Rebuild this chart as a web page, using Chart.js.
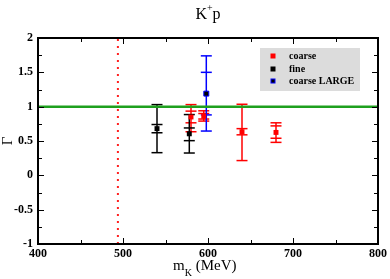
<!DOCTYPE html>
<html><head><meta charset="utf-8">
<script src="https://cdn.jsdelivr.net/npm/chart.js@4/dist/chart.umd.min.js"></script>
<style>html,body{margin:0;padding:0;background:#fff}#wrap{width:390px;height:279px}</style>
</head><body><div id="wrap"><canvas id="c" width="390" height="279"></canvas></div>
<script>
// ---- data ----
const coarseX      = [580, 595, 640, 680];
const coarseY      = [0.85, 0.86, 0.635, 0.625];
const coarseStatLo = [0.765, 0.82, 0.59, 0.54];
const coarseStatHi = [0.935, 0.90, 0.68, 0.72];
const coarseTotLo  = [0.635, 0.79, 0.215, 0.48];
const coarseTotHi  = [1.03, 0.94, 1.035, 0.765];

const fineX      = [540, 578];
const fineY      = [0.68, 0.605];
const fineStatLo = [0.62, 0.505];
const fineStatHi = [0.74, 0.69];
const fineTotLo  = [0.33, 0.325];
const fineTotHi  = [1.03, 0.885];

const largeX      = [598];
const largeY      = [1.19];
const largeStatLo = [0.88];
const largeStatHi = [1.50];
const largeTotLo  = [0.645];
const largeTotHi  = [1.74];

const refLineY = 1;        // horizontal reference
const kaonMass = 494;      // vertical dotted line
const xTicks = [400, 500, 600, 700, 800];
const yTicks = [2, 1.5, 1, 0.5, 0, -0.5, -1];
const legendLabels = ['coarse', 'fine', 'coarse LARGE'];

const pts = (xs, ys) => xs.map((x, i) => ({x, y: ys[i]}));

const series = [
  {x: coarseX, y: coarseY, sl: coarseStatLo, sh: coarseStatHi, tl: coarseTotLo, th: coarseTotHi, color: '#ff0000', fill: '#ff0000'},
  {x: fineX, y: fineY, sl: fineStatLo, sh: fineStatHi, tl: fineTotLo, th: fineTotHi, color: '#000000', fill: '#000000'},
  {x: largeX, y: largeY, sl: largeStatLo, sh: largeStatHi, tl: largeTotLo, th: largeTotHi, color: '#0000ff', fill: '#000000'}
];

const errPlugin = {
  id: 'err',
  beforeDatasetsDraw(chart) {
    const ctx = chart.ctx, xs = chart.scales.x, ys = chart.scales.y;
    ctx.save();
    ctx.lineWidth = 1.5;
    series.forEach(s => {
      ctx.strokeStyle = s.color;
      s.x.forEach((xv, i) => {
        const px = xs.getPixelForValue(xv);
        const cap = (v) => { const py = ys.getPixelForValue(v); ctx.beginPath(); ctx.moveTo(px - 5.5, py); ctx.lineTo(px + 5.5, py); ctx.stroke(); };
        ctx.beginPath();
        ctx.moveTo(px, ys.getPixelForValue(s.tl[i]));
        ctx.lineTo(px, ys.getPixelForValue(s.th[i]));
        ctx.stroke();
        [s.tl[i], s.th[i], s.sl[i], s.sh[i]].forEach(cap);
      });
    });
    ctx.restore();
  },
  afterDraw(chart) {
    const ctx = chart.ctx, xs = chart.scales.x, ys = chart.scales.y, a = chart.chartArea;
    ctx.save();
    // ticks inside frame
    ctx.strokeStyle = '#000'; ctx.lineWidth = 1;
    for (let v = 400; v <= 800; v += 50) {
      const px = Math.round(xs.getPixelForValue(v)) + 0.5;
      const L = (v % 100 === 0) ? 6 : 4;
      ctx.beginPath(); ctx.moveTo(px, a.bottom); ctx.lineTo(px, a.bottom - L);
      ctx.moveTo(px, a.top); ctx.lineTo(px, a.top + L); ctx.stroke();
    }
    for (let k = -4; k <= 8; k++) {
      const v = k * 0.25;
      const py = Math.round(ys.getPixelForValue(v)) + 0.5;
      const L = (k % 2 === 0) ? 6 : 4;
      ctx.beginPath(); ctx.moveTo(a.left, py); ctx.lineTo(a.left + L, py);
      ctx.moveTo(a.right, py); ctx.lineTo(a.right - L, py); ctx.stroke();
    }
    // frame
    ctx.lineWidth = 2;
    ctx.strokeRect(a.left, a.top, a.right - a.left, a.bottom - a.top);

    // legend
    ctx.fillStyle = '#dcdcdc';
    ctx.fillRect(260, 48, 100, 43);
    const rows = [56, 69, 81];
    ctx.font = 'bold 10px "Liberation Serif", serif';
    ctx.textBaseline = 'middle'; ctx.textAlign = 'left';
    series.forEach((s, i) => {
      ctx.fillStyle = s.color;
      ctx.fillRect(270.5, rows[i] - 2.5, 5, 5);
      if (s.fill !== s.color) { ctx.fillStyle = s.fill; ctx.fillRect(271.5, rows[i] - 1.5, 3, 3); }
      ctx.fillStyle = '#000';
      ctx.fillText(legendLabels[i], 289, rows[i] + 0.5);
    });

    // title K+p
    ctx.fillStyle = '#000';
    ctx.textBaseline = 'alphabetic';
    ctx.font = '16px "Liberation Serif", serif';
    const kw = ctx.measureText('K').width, pw = ctx.measureText('p').width;
    ctx.font = '10px "Liberation Serif", serif';
    const plw = ctx.measureText('+').width;
    let tx = (a.left + a.right) / 2 - (kw + plw + pw) / 2;
    ctx.font = '16px "Liberation Serif", serif';
    ctx.fillText('K', tx, 18.5);
    ctx.font = '10px "Liberation Serif", serif';
    ctx.fillText('+', tx + kw, 11);
    ctx.font = '16px "Liberation Serif", serif';
    ctx.fillText('p', tx + kw + plw, 18.5);

    // x title
    ctx.font = '15px "Liberation Serif", serif';
    const mw = ctx.measureText('m').width;
    ctx.fillText('m', 173, 270);
    ctx.font = '10px "Liberation Serif", serif';
    const ksw = ctx.measureText('K').width;
    ctx.fillText('K', 173 + mw, 276);
    ctx.font = '15px "Liberation Serif", serif';
    ctx.fillText(' (MeV)', 173 + mw + ksw, 270);

    // y title (rotated)
    ctx.save();
    ctx.translate(12, (a.top + a.bottom) / 2);
    ctx.rotate(-Math.PI / 2);
    ctx.textAlign = 'center';
    ctx.font = '15px "Liberation Serif", serif';
    ctx.fillText('Γ', 0, 0);
    ctx.restore();
    ctx.restore();
  }
};

new Chart(document.getElementById('c'), {
  type: 'scatter',
  data: {
    datasets: [
      {type: 'line', data: [{x: 400, y: refLineY}, {x: 800, y: refLineY}], borderColor: '#1ea01e', borderWidth: 2.5, pointRadius: 0},
      {type: 'line', data: [{x: kaonMass, y: -1}, {x: kaonMass, y: 2}], borderColor: '#ff2020', borderWidth: 2, borderDash: [2, 5], pointRadius: 0},
      {data: pts(coarseX, coarseY), pointStyle: 'rect', pointRadius: 3.5, backgroundColor: '#ff0000', borderColor: '#ff0000', borderWidth: 0},
      {data: pts(fineX, fineY), pointStyle: 'rect', pointRadius: 3.5, backgroundColor: '#000', borderColor: '#000', borderWidth: 0},
      {data: pts(largeX, largeY), pointStyle: 'rect', pointRadius: 3.5, backgroundColor: '#000', borderColor: '#0000ff', borderWidth: 1}
    ]
  },
  options: {
    responsive: false, animation: false,
    layout: {padding: {left: 0, top: 38, right: 10, bottom: 0}},
    plugins: {legend: {display: false}, tooltip: {enabled: false}, title: {display: false}},
    scales: {
      x: {
        type: 'linear', min: 400, max: 800,
        afterFit: s => { s.height = 35; },
        afterBuildTicks: s => { s.ticks = xTicks.map(v => ({value: v})); },
        grid: {display: false, drawTicks: false}, border: {display: false},
        ticks: {padding: 3, color: '#000', font: {family: '"Liberation Serif", serif', size: 12, weight: 'bold'}, maxRotation: 0, autoSkip: false}
      },
      y: {
        type: 'linear', min: -1, max: 2,
        afterFit: s => { s.width = 38; },
        afterBuildTicks: s => { s.ticks = yTicks.map(v => ({value: v})); },
        grid: {display: false, drawTicks: false}, border: {display: false},
        ticks: {padding: 5, color: '#000', font: {family: '"Liberation Serif", serif', size: 12, weight: 'bold'}, autoSkip: false, callback: v => String(v)}
      }
    }
  },
  plugins: [errPlugin]
});
</script></body></html>
